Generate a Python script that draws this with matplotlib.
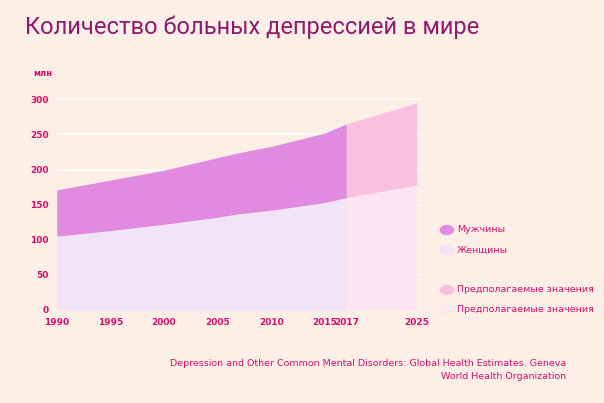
import matplotlib.pyplot as plt
from matplotlib.patches import Circle

years = [1990, 1995, 2000, 2005, 2007, 2010, 2015, 2017]
women = [105, 113, 122, 132, 137, 142, 153, 160]
total = [171, 185, 199, 217, 224, 233, 252, 265]
proj_years = [2017, 2025]
proj_women = [160, 178]
proj_total = [265, 295]
xticks = [1990, 1995, 2000, 2005, 2010, 2015, 2017, 2025]
yticks = [0, 50, 100, 150, 200, 250, 300]


def xpos(year):
    # the projected part is drawn a bit compressed, as in the original
    return year if year <= 2017 else 2017 + (year - 2017) * 0.82


bg = '#fdeee6'
pink = '#d4106e'
fig = plt.figure(figsize=(6.04, 4.03), dpi=100, facecolor=bg)
ax = fig.add_axes([0.094, 0.231, 0.603, 0.526], facecolor=bg)

for y in yticks:
    ax.axhline(y, color='white', lw=1.2, zorder=0)
px = [xpos(y) for y in years]
ppx = [xpos(y) for y in proj_years]
ax.fill_between(px, 0, women, color='#f3e3f8', lw=0, zorder=1)
ax.fill_between(px, women, total, color='#e08ae0', lw=0, zorder=1)
ax.fill_between(ppx, 0, proj_women, color='#fde6f1', lw=0, zorder=1)
ax.fill_between(ppx, proj_women, proj_total, color='#f9c1de', lw=0, zorder=1)

ax.set_xlim(1990, xpos(2025) + 0.4)
ax.set_ylim(0, 302)
ax.set_xticks([xpos(y) for y in xticks])
ax.set_xticklabels([str(y) for y in xticks])
ax.set_yticks(yticks)
ax.tick_params(length=0, labelsize=6.5, labelcolor=pink, pad=6)
for lab in ax.get_xticklabels() + ax.get_yticklabels():
    lab.set_fontweight('bold')
for s in ax.spines.values():
    s.set_visible(False)

fig.text(0.042, 0.915, 'Количество больных депрессией в мире', fontsize=17,
         color='#8e1a6c', family='Roboto')
fig.text(0.055, 0.812, 'млн', fontsize=6, color=pink, fontweight='bold')

legend = [(230, '#e08ae0', 'Мужчины'), (250, '#f3e3f8', 'Женщины'),
          (290, '#f9c1de', 'Предполагаемые значения'),
          (309, '#fde6f1', 'Предполагаемые значения')]
for py, c, t in legend:
    fig.patches.append(Circle((447 / 604, 1 - py / 403), 0.011, color=c,
                              transform=fig.transFigure))
    fig.text(457 / 604, 1 - py / 403, t, fontsize=6.8, color=pink, va='center')

fig.text(0.938, 0.082, 'Depression and Other Common Mental Disorders: Global Health Estimates. Geneva\nWorld Health Organization',
         fontsize=6.8, color=pink, ha='right', va='center', linespacing=1.5)
fig.savefig('out.png', dpi=100, facecolor=bg)
